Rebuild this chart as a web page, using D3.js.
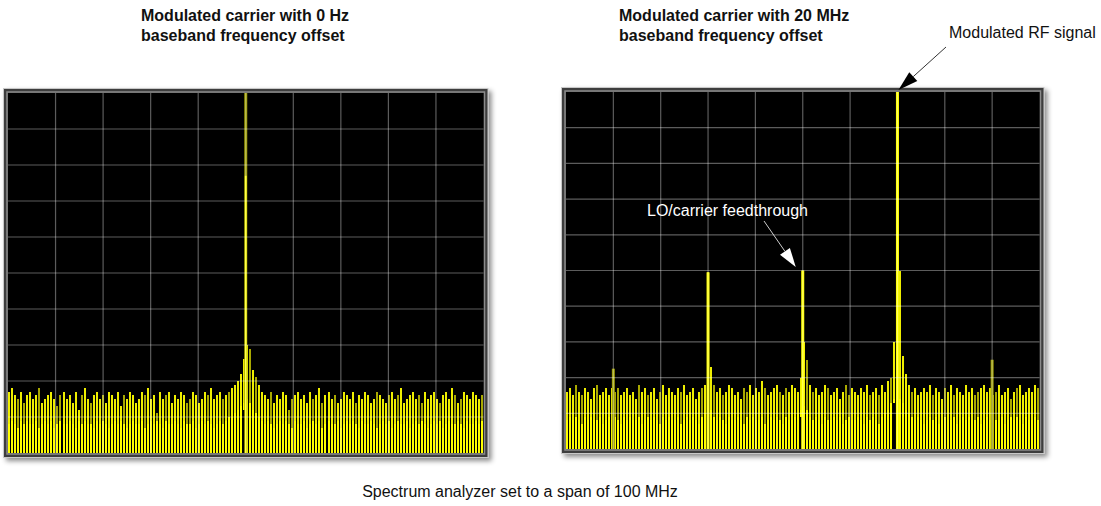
<!DOCTYPE html>
<html>
<head>
<meta charset="utf-8">
<script src="https://cdn.jsdelivr.net/npm/d3@7/dist/d3.min.js"></script>
<style>
  html, body { margin: 0; padding: 0; background: #fff; }
  svg { display: block; }
  text { font-family: "Liberation Sans", Arial, sans-serif; }
</style>
</head>
<body>
<svg id="chart" width="1101" height="506"></svg>
<script>
// ---------- data (dBm, 10 dB/div, ref level 0 dBm, span 100 MHz) ----------
const titles = [
  ["Modulated carrier with 0 Hz", "baseband frequency offset"],
  ["Modulated carrier with 20 MHz", "baseband frequency offset"]
];
const footnote = "Spectrum analyzer set to a span of 100 MHz";
const rfLabel = "Modulated RF signal";
const loLabel = "LO/carrier feedthrough";

const freqTicks = [-40, -30, -20, -10, 0, 10, 20, 30, 40];   // MHz grid
const levelTicks = [-90, -80, -70, -60, -50, -40, -30, -20, -10]; // dBm grid

// noise trace peak (max-hold) per display bin
const leftPeak = [
  -83,-82,-84,-85,-83,-86,-84,-83,-85,-84,-82,-86,-85,-84,-83,-85,-87,-84,-83,-85,
  -84,-86,-83,-88,-84,-82,-85,-86,-84,-83,-85,-84,-86,-83,-84,-85,-83,-87,-84,-85,
  -83,-84,-86,-85,-83,-84,-82,-85,-84,-89,-83,-85,-84,-83,-86,-84,-85,-83,-84,-86,
  -85,-83,-84,-86,-85,-83,-84,-82,-85,-84,-83,-85,-84,-83,-82,-81,-80,-78,-74,-70,
  -71,-77,-79,-81,-83,-84,-85,-83,-86,-84,-85,-83,-84,-88,-85,-84,-83,-85,-84,-86,
  -83,-85,-84,-82,-86,-84,-83,-85,-84,-86,-85,-83,-84,-85,-83,-86,-84,-85,-83,-84,
  -86,-85,-83,-84,-85,-86,-84,-83,-85,-84,-82,-86,-85,-84,-83,-85,-84,-86,-83,-85,
  -84,-83,-85,-86,-84,-83,-85,-82,-84,-86,-85,-83,-84,-85,-83,-84,-85,-84
];
// noise trace average per display bin
const leftAvg = [
  -92,-91,-92,-93,-91,-92,-91,-92,-92,-91,-93,-92,-91,-92,-91,-93,-92,-91,-92,-92,
  -91,-92,-93,-91,-92,-91,-92,-92,-93,-91,-92,-91,-92,-93,-92,-91,-92,-91,-92,-93,
  -92,-91,-92,-92,-91,-93,-92,-91,-92,-91,-92,-93,-91,-92,-92,-91,-92,-93,-91,-92,
  -92,-91,-93,-92,-91,-92,-91,-92,-93,-92,-91,-92,-91,-90,-90,-89,-88,-87,-86,-85,
  -86,-88,-89,-90,-91,-92,-91,-92,-93,-92,-91,-92,-91,-92,-93,-91,-92,-92,-91,-93,
  -92,-91,-92,-91,-93,-92,-91,-92,-92,-91,-93,-92,-91,-92,-91,-92,-93,-91,-92,-92,
  -91,-92,-93,-92,-91,-92,-91,-93,-92,-91,-92,-92,-91,-93,-92,-91,-92,-91,-92,-93,
  -92,-91,-92,-91,-93,-92,-91,-92,-92,-91,-92,-93,-91,-92,-92,-91,-92,-91
];
const rightPeak = [
  -84,-83,-85,-82,-84,-85,-83,-84,-86,-83,-82,-85,-84,-83,-85,-83,-84,-83,-85,-84,
  -83,-85,-84,-86,-82,-84,-83,-85,-84,-83,-86,-84,-82,-85,-83,-84,-85,-83,-84,-82,
  -85,-84,-83,-86,-84,-83,-82,-75,-77,-82,-84,-83,-85,-84,-82,-83,-85,-84,-86,-83,
  -84,-82,-85,-83,-84,-81,-83,-85,-84,-83,-82,-84,-85,-83,-84,-82,-83,-84,-80,-70,
  -75,-82,-84,-83,-85,-84,-82,-83,-85,-84,-83,-86,-84,-82,-85,-83,-84,-85,-83,-84,
  -82,-85,-84,-83,-85,-82,-84,-81,-80,-70,-47,-50,-74,-79,-82,-84,-83,-85,-84,-83,
  -84,-82,-85,-83,-84,-86,-83,-84,-82,-85,-83,-84,-85,-82,-84,-83,-85,-84,-83,-82,
  -84,-83,-85,-84,-82,-85,-84,-83,-86,-84,-83,-82,-85,-84,-83,-84,-82,-83
];
const rightAvg = [
  -92,-91,-92,-91,-92,-93,-91,-92,-91,-92,-92,-91,-93,-92,-91,-92,-91,-92,-93,-91,
  -92,-91,-92,-92,-91,-93,-92,-91,-92,-91,-92,-93,-91,-92,-91,-92,-92,-91,-93,-92,
  -91,-92,-91,-92,-93,-91,-90,-88,-89,-91,-92,-91,-92,-93,-91,-92,-92,-91,-92,-93,
  -91,-92,-91,-92,-92,-91,-93,-92,-91,-92,-91,-92,-93,-91,-92,-92,-91,-90,-89,-88,
  -89,-91,-92,-91,-92,-93,-91,-92,-92,-91,-92,-91,-93,-92,-91,-92,-92,-91,-92,-93,
  -91,-92,-91,-92,-93,-91,-90,-89,-87,-86,-85,-86,-87,-89,-90,-91,-92,-91,-92,-93,
  -92,-91,-92,-91,-93,-92,-91,-92,-92,-91,-93,-92,-91,-92,-91,-92,-92,-91,-93,-92,
  -91,-92,-91,-92,-92,-91,-93,-92,-91,-92,-91,-92,-93,-91,-92,-92,-91,-92
];
// bins whose trace does not reach the bottom: [bin, lowest level]
const leftNotches = [[78, -88]];
const rightNotches = [[47, -89], [78, -91], [109, -87]];
// discrete tones: [freq MHz, peak dBm, average dBm]
const leftTones = [[0, 0, -23]];
const rightTones = [[-40, -77.5, -86], [-20, -50.5, -50.5], [0, -50, -50], [20, 0, 0], [40, -75, -86]];

// ---------- drawing ----------
const svg = d3.select("#chart");
const defs = svg.append("defs");
const sh = defs.append("filter").attr("id", "shadow")
  .attr("x", "-5%").attr("y", "-5%").attr("width", "115%").attr("height", "115%");
sh.append("feDropShadow").attr("dx", 3).attr("dy", 3).attr("stdDeviation", 2.5)
  .attr("flood-color", "#000").attr("flood-opacity", 0.45);

const panels = [
  { x0: 8, y0: 93, w: 475.5, h: 360, peak: leftPeak, avg: leftAvg, notches: leftNotches, tones: leftTones, title: titles[0], tx: 141 },
  { x0: 566, y0: 92, w: 473.5, h: 357, peak: rightPeak, avg: rightAvg, notches: rightNotches, tones: rightTones, title: titles[1], tx: 619 }
];

panels.forEach((p, k) => {
  const N = p.peak.length;
  const xb = d3.scaleBand().domain(d3.range(N)).range([p.x0, p.x0 + p.w]).paddingInner(0.3).paddingOuter(0.1);
  const fx = d3.scaleLinear().domain([-50, 50]).range([p.x0, p.x0 + p.w]);
  const y = d3.scaleLinear().domain([-100, 0]).range([p.y0 + p.h, p.y0]);
  const notch = new Map(p.notches);

  const g = svg.append("g");
  // frame
  g.append("rect").attr("x", p.x0 - 4.5).attr("y", p.y0 - 4.5).attr("width", p.w + 9).attr("height", p.h + 9)
    .attr("fill", "#3c3c3c").attr("stroke", "#c8c8c8").attr("stroke-width", 1).attr("filter", "url(#shadow)");
  g.append("rect").attr("x", p.x0 - 1).attr("y", p.y0 - 1).attr("width", p.w + 2).attr("height", p.h + 2)
    .attr("fill", "none").attr("stroke", "#8a8a8a").attr("stroke-width", 1.5);
  g.append("rect").attr("x", p.x0).attr("y", p.y0).attr("width", p.w).attr("height", p.h).attr("fill", "#000");

  const clipId = "clip" + k;
  defs.append("clipPath").attr("id", clipId).append("rect")
    .attr("x", p.x0).attr("y", p.y0).attr("width", p.w).attr("height", p.h);
  const plot = g.append("g").attr("clip-path", `url(#${clipId})`);

  const lowOf = i => notch.has(i) ? notch.get(i) : -100;
  const bx = i => Math.round(xb(i));

  // peak trace bars
  plot.append("g").attr("shape-rendering", "crispEdges").selectAll("rect").data(p.peak).join("rect")
    .attr("x", (d, i) => bx(i)).attr("width", 2)
    .attr("y", d => y(d)).attr("height", (d, i) => y(lowOf(i)) - y(d))
    .attr("fill", (d, i) => (i % 7 === 3 || i % 11 === 5) ? "#a8a800" : "#eeee00");
  // average trace bars
  plot.append("g").attr("shape-rendering", "crispEdges").selectAll("rect").data(p.avg).join("rect")
    .attr("x", (d, i) => bx(i)).attr("width", 2)
    .attr("y", d => y(d)).attr("height", (d, i) => Math.max(0, y(lowOf(i)) - y(d)))
    .attr("fill", "#ffff00");

  // tones
  p.tones.forEach(([f, pk, av]) => {
    plot.append("rect").attr("x", fx(f) - 1.5).attr("width", 3)
      .attr("y", y(pk)).attr("height", y(-100) - y(pk))
      .attr("fill", pk === av ? "#ffff00" : "#9a9a00");
    if (av > -85) {
      plot.append("rect").attr("x", fx(f) - 0.9).attr("width", 1.8)
        .attr("y", y(av)).attr("height", y(-100) - y(av)).attr("fill", "#ffff00");
    }
  });

  // graticule on top
  const grid = g.append("g").attr("stroke", "rgba(255,255,255,0.36)").attr("stroke-width", 1.2);
  grid.selectAll("line.v").data(freqTicks).join("line").attr("class", "v")
    .attr("x1", d => fx(d)).attr("x2", d => fx(d)).attr("y1", p.y0).attr("y2", p.y0 + p.h);
  grid.selectAll("line.h").data(levelTicks).join("line").attr("class", "h")
    .attr("x1", p.x0).attr("x2", p.x0 + p.w).attr("y1", d => y(d)).attr("y2", d => y(d));

  // title
  svg.append("text").attr("x", p.tx).attr("y", 21).attr("font-size", 16).attr("font-weight", "bold")
    .attr("fill", "#111").text(p.title[0]);
  svg.append("text").attr("x", p.tx).attr("y", 41).attr("font-size", 16).attr("font-weight", "bold")
    .attr("fill", "#111").text(p.title[1]);

  p.fx = fx; p.y = y;
});

// annotations
function arrow(x1, y1, x2, y2, color, len, half) {
  const a = Math.atan2(y2 - y1, x2 - x1);
  const bx = x2 - len * Math.cos(a), by = y2 - len * Math.sin(a);
  svg.append("line").attr("x1", x1).attr("y1", y1).attr("x2", bx).attr("y2", by)
    .attr("stroke", color).attr("stroke-width", 0.8);
  const px = -Math.sin(a) * half, py = Math.cos(a) * half;
  svg.append("path").attr("d", `M${x2},${y2}L${bx + px},${by + py}L${bx - px},${by - py}Z`).attr("fill", color);
}
const R = panels[1];
arrow(946, 47, R.fx(20) + 1, 90, "#000", 20, 6);
svg.append("text").attr("x", 949).attr("y", 38).attr("font-size", 16).attr("fill", "#111").text(rfLabel);

svg.append("text").attr("x", 647).attr("y", 216).attr("font-size", 16).attr("fill", "#fff").text(loLabel);
arrow(764, 221, R.fx(0) - 7, 267, "#fff", 19, 6);

svg.append("text").attr("x", 520).attr("y", 497).attr("text-anchor", "middle").attr("font-size", 16)
  .attr("fill", "#111").text(footnote);
</script>
</body>
</html>
